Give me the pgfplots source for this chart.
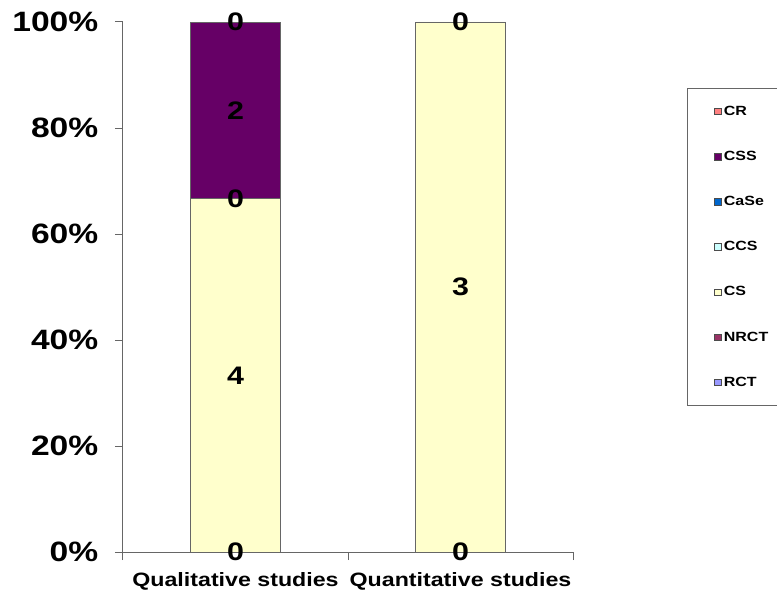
\documentclass[border=0pt]{standalone}
\usepackage{fontspec}
\setmainfont{Liberation Sans}[FakeStretch=1.2]
\usepackage{pgfplots}
\pgfplotsset{compat=1.18}
\usepackage{pgfplotstable}

\definecolor{cRCT}{HTML}{9999FF}
\definecolor{cNRCT}{HTML}{993366}
\definecolor{cCS}{HTML}{FFFFCC}
\definecolor{cCCS}{HTML}{CCFFFF}
\definecolor{cCaSe}{HTML}{0066CC}
\definecolor{cCSS}{HTML}{660066}
\definecolor{cCR}{HTML}{FF8080}

% x = category, p = percent of bar, n = count shown as label
\pgfplotstableread{
x p n
0 0 0
1 0 0
}\tRCT
\pgfplotstableread{
x p n
0 0 0
1 0 0
}\tNRCT
\pgfplotstableread{
x p n
0 66.667 4
1 100 3
}\tCS
\pgfplotstableread{
x p n
0 0 0
1 0 0
}\tCCS
\pgfplotstableread{
x p n
0 0 0
1 0 0
}\tCaSe
\pgfplotstableread{
x p n
0 33.333 2
1 0 0
}\tCSS
\pgfplotstableread{
x p n
0 0 0
1 0 0
}\tCR
% labels of the zero-height segments, at the stack level where they sit
\pgfplotstableread{
x p n
0 0 0
0 66.667 0
0 100 0
1 0 0
1 100 0
}\tZero

\pgfplotsset{
  sq legend/.style={legend image code/.code={
    \draw[##1, draw=black!70, line width=0.5pt] (0pt,-2.4pt) rectangle (4.8pt,2.4pt);}},
}
\newcommand{\lblfont}{\fontsize{19}{19}\selectfont\bfseries}

\begin{document}
\begin{tikzpicture}
\begin{axis}[
  name=ax, at={(0,0)}, anchor=south west,
  scale only axis, width=337.5pt, height=397.5pt,
  ybar stacked, bar width=67.5pt,
  xmin=-0.5, xmax=1.5, ymin=0, ymax=100,
  axis x line*=bottom, axis y line*=left,
  axis line style={draw=black!60, line width=0.75pt},
  xtick={0,1},
  xticklabels={Qualitative studies, Quantitative studies},
  major x tick style={draw=none},
  minor xtick={-0.5,0.5,1.5},
  minor x tick style={draw=black!60, line width=0.75pt},
  ytick={0,20,40,60,80,100},
  yticklabels={0\%,20\%,40\%,60\%,80\%,100\%},
  ytick style={draw=black!60, line width=0.75pt},
  tick align=outside,
  major tick length=6pt, minor tick length=6pt,
  x tick label style={font=\fontsize{14.5}{14.5}\selectfont\bfseries, yshift=-6pt},
  y tick label style={font=\fontsize{21}{21}\selectfont\bfseries, xshift=-9pt},
  nodes near coords,
  point meta=explicit symbolic,
  nodes near coords align={center},
  every node near coord/.append style={anchor=center, inner sep=0pt, font=\lblfont},
  legend style={at={(rel axis cs:1.2533,0.8755)}, anchor=north west,
     draw=black!60, line width=0.75pt,
     font=\fontsize{10}{10}\selectfont\bfseries,
     inner xsep=20pt, inner ysep=11pt, row sep=21.4pt,
     cells={anchor=west}},
  reverse legend,
]
\addplot[fill=cRCT, draw=black!60, sq legend] table[x=x, y=p, meta=n] {\tRCT};
\addlegendentry{RCT}
\addplot[fill=cNRCT, draw=black!60, sq legend] table[x=x, y=p, meta=n] {\tNRCT};
\addlegendentry{NRCT}
\addplot[fill=cCS, draw=black!60, sq legend] table[x=x, y=p, meta=n] {\tCS};
\addlegendentry{CS}
\addplot[fill=cCCS, draw=black!60, sq legend] table[x=x, y=p, meta=n] {\tCCS};
\addlegendentry{CCS}
\addplot[fill=cCaSe, draw=black!60, sq legend] table[x=x, y=p, meta=n] {\tCaSe};
\addlegendentry{CaSe}
\addplot[fill=cCSS, draw=black!60, sq legend] table[x=x, y=p, meta=n] {\tCSS};
\addlegendentry{CSS}
\addplot[fill=cCR, draw=black!60, sq legend] table[x=x, y=p, meta=n] {\tCR};
\addlegendentry{CR}
\end{axis}
\begin{axis}[
  at={(0,0)}, anchor=south west,
  scale only axis, width=337.5pt, height=397.5pt,
  xmin=-0.5, xmax=1.5, ymin=0, ymax=100,
  hide axis, clip=false,
]
\addplot[draw=none, mark=none, nodes near coords, point meta=explicit symbolic,
  every node near coord/.style={anchor=center, inner sep=0pt, font=\lblfont}]
  table[x=x, y=p, meta=n] {\tZero};
\end{axis}
\pgfresetboundingbox
\path (ax.south west) ++(-92.25pt,-33.75pt) rectangle ++(582.75pt,447.75pt);
\end{tikzpicture}
\end{document}
